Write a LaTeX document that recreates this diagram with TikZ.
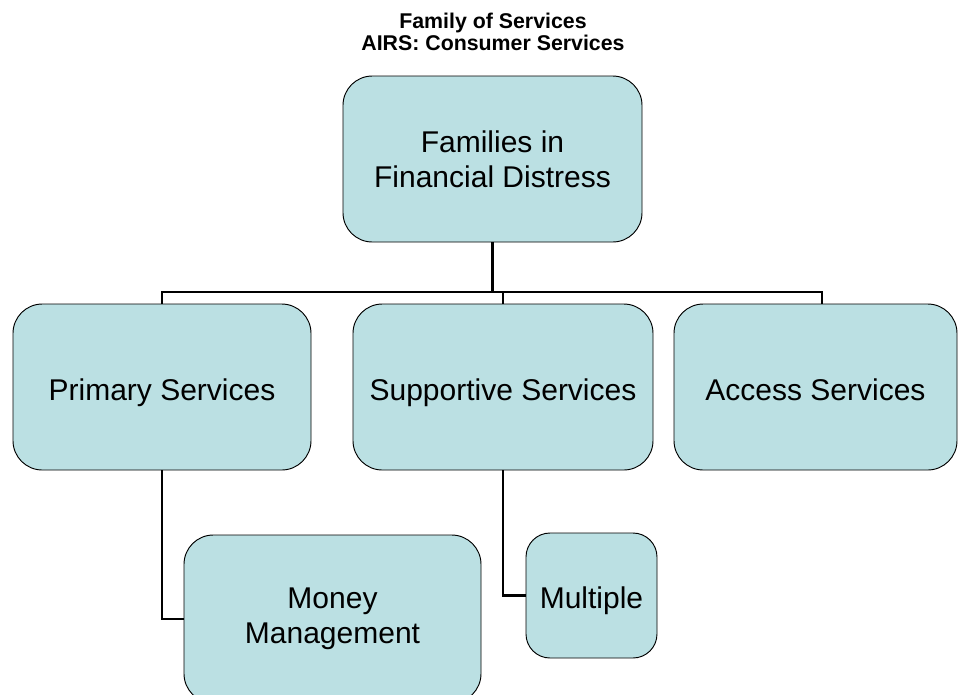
\documentclass[tikz,border=0pt]{standalone}
\usepackage{fontspec}
\setmainfont{Liberation Sans}
\definecolor{boxfill}{HTML}{BBE0E3}
\begin{document}
\begin{tikzpicture}[x=0.75pt,y=-0.75pt,
  unit box/.style 2 args={draw=black, line width=0.7pt, fill=boxfill,
    rounded corners=22pt, minimum width=#1*0.75pt, minimum height=#2*0.75pt,
    inner sep=0pt, align=center, font=\fontsize{22.5}{26.25}\selectfont},
  one line/.style={text height=19.5pt, text depth=0pt},
  small box/.style 2 args={unit box={#1}{#2}, rounded corners=18pt},
  link/.style={draw=black, line width=1.6pt},
  heading/.style={font=\bfseries\fontsize{16}{19}\selectfont, anchor=base}]
  % page frame
  \clip (0,0) rectangle (958,694);

  % title
  \node[heading] (title1) at (493,28) {Family of Services};
  \node[heading] (title2) at (493,50) {AIRS: Consumer Services};

  % service boxes
  \node[unit box={299}{166}] (top) at (492.5,159) {Families in\\Financial Distress};
  \node[unit box={298}{166}, one line] (prim) at (162,387) {Primary Services};
  \node[unit box={300}{166}, one line] (supp) at (503,387) {Supportive Services};
  \node[unit box={283}{166}, one line] (acc) at (815.5,387) {Access Services};
  \node[unit box={297}{168}] (money) at (332.5,619) {Money\\Management};
  \node[small box={131}{125}, one line] (mult) at (591.5,595.5) {Multiple};

  % connectors
  \coordinate (busy) at (0,292);
  \coordinate (accdrop) at (822,292);
  \draw[link] (top.south) -- (top.south |- busy);
  \draw[link] (prim.north) -- (prim.north |- busy) -- (accdrop) -- (accdrop |- acc.north);
  \draw[link] (supp.north) -- (supp.north |- busy);
  \draw[link] (prim.south) |- (money.west);
  \draw[link] (supp.south) |- (mult.west);
\end{tikzpicture}
\end{document}
